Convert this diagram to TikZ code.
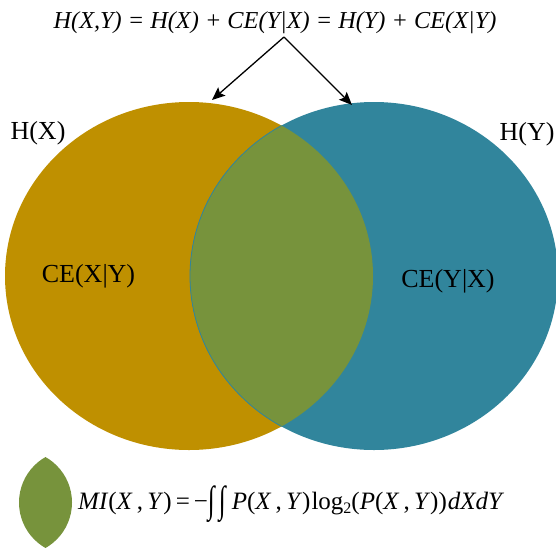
\documentclass[tikz,border=0pt]{standalone}
\usepackage{fontspec}
\setmainfont{Liberation Serif}
\usetikzlibrary{arrows.meta}
\definecolor{gold}{HTML}{BF9000}
\definecolor{teal}{HTML}{31859C}
\definecolor{olive}{HTML}{77933C}
\tikzset{
  lbl/.style={inner sep=0pt, font=\fontsize{26}{28}\selectfont},
  formula/.style={inner sep=0pt, font=\fontsize{24.3}{26}\selectfont},
  miform/.style={inner sep=0pt, font=\fontsize{25}{27}\selectfont},
  arr/.style={line width=1.3pt, -{Stealth[length=13pt,width=11pt,inset=2.5pt]}}
}
\begin{document}
\begin{tikzpicture}[x=1pt,y=-1pt]
\useasboundingbox (0,0) rectangle (556,549);
% ellipses
\fill[gold] (189,276) ellipse [x radius=184pt, y radius=174pt];
\fill[teal] (374,276) ellipse [x radius=184pt, y radius=174pt];
\begin{scope}
  \clip (189,276) ellipse [x radius=184pt, y radius=174pt];
  \fill[olive] (374,276) ellipse [x radius=184pt, y radius=174pt];
  \draw[teal, line width=0.8pt] (374,276) ellipse [x radius=184pt, y radius=174pt];
\end{scope}
% labels
\node[lbl] (hx) at (38,133) {H(X)};
\node[lbl] (hy) at (527,134) {H(Y)};
\node[lbl] (cexy) at (88.5,276) {CE(X|Y)};
\node[lbl] (ceyx) at (448,281) {CE(Y|X)};
% top formula
\node[formula, anchor=base] (top) at (275,28) {\itshape H(X,Y) = H(X) + CE(Y|X) = H(Y) + CE(X|Y)};
\coordinate (apex) at (284,37);
\coordinate (tl) at (212,100);
\coordinate (tr) at (352,105);
\draw[arr] (apex) -- (tl);
\draw[arr] (apex) -- (tr);
% lens icon
\begin{scope}
  \clip (71.3,502.5) circle [radius=52.3pt];
  \fill[olive] (19.7,502.5) circle [radius=52.3pt];
\end{scope}
\node[miform, anchor=base west] (mi) at (78,509) {\textit{MI}(\textit{X}\,,\,\textit{Y})\hspace{4pt}=\hspace{4pt}−\raisebox{-3pt}{\scalebox{1}[1.5]{∫\,∫}}\hspace{6pt}\textit{P}(\textit{X}\,,\,\textit{Y})\hspace{1pt}log\raisebox{-4pt}{\fontsize{16}{17}\selectfont 2}(\textit{P}(\textit{X}\,,\,\textit{Y}))\hspace{1pt}\textit{dXdY}};
\end{tikzpicture}
\end{document}
